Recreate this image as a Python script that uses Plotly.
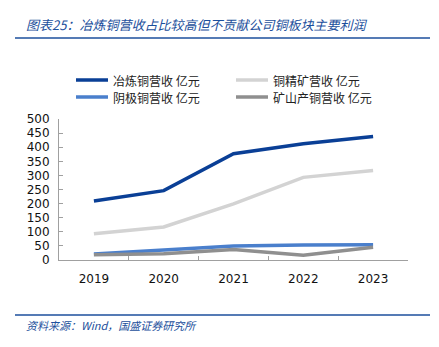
import plotly.graph_objects as go

years = ["2019", "2020", "2021", "2022", "2023"]
names = ["冶炼铜营收 亿元", "铜精矿营收 亿元", "阴极铜营收 亿元", "矿山产铜营收 亿元"]
smelting = [209, 246, 377, 412, 438]
concentrate = [93, 117, 199, 293, 317]
cathode = [21, 34, 50, 53, 54]
mine = [19, 22, 37, 17, 45]
series = [smelting, concentrate, cathode, mine]
colors = ["#0a3f96", "#d3d3d3", "#4a7fcc", "#8f8f8f"]

L, R, T, B = 59, 31, 119, 87
W, H = 439, 347
PW, PH = W - L - R, H - T - B


def px_x(p):
    return (p - L) / PW


def px_y(p):
    return (H - B - p) / PH


fig = go.Figure()
for n, v, c in zip(names, series, colors):
    fig.add_trace(go.Scatter(x=years, y=v, name=n, mode="lines",
                             line=dict(color=c, width=3.5), showlegend=False))

cjk = "Noto Sans CJK SC"
fig.update_layout(
    width=W, height=H,
    margin=dict(l=L, r=R, t=T, b=B),
    paper_bgcolor="white", plot_bgcolor="white",
    font=dict(family="DejaVu Sans", size=12, color="#111111"),
    xaxis=dict(range=[-0.5, 4.5], showgrid=False, showline=True, linecolor="#a0a0a0",
               linewidth=1, ticks="inside", ticklen=4, tickcolor="#a0a0a0",
               tickson="boundaries", ticklabelstandoff=8,
               tickfont=dict(size=12, family="DejaVu Sans")),
    yaxis=dict(range=[0, 500], dtick=50, showgrid=False, showline=True,
               linecolor="#a0a0a0", linewidth=1, ticks="inside", ticklen=4,
               tickcolor="#a0a0a0", zeroline=False, ticklabelstandoff=6,
               tickfont=dict(size=12, family="DejaVu Sans")),
)

# legend drawn as line samples + labels, 2 columns x 2 rows
leg_pos = [(76, 80), (236, 80), (76, 97), (236, 97)]
for (lx, ly), n, c in zip(leg_pos, names, colors):
    fig.add_shape(type="line", xref="paper", yref="paper",
                  x0=px_x(lx), x1=px_x(lx + 32), y0=px_y(ly), y1=px_y(ly),
                  line=dict(color=c, width=3.5))
    fig.add_annotation(text=n, xref="paper", yref="paper", x=px_x(lx + 35), y=px_y(ly),
                       showarrow=False, xanchor="left", yanchor="middle",
                       font=dict(family=cjk, size=12, color="#222222"))

fig.add_annotation(text="图表25：冶炼铜营收占比较高但不贡献公司铜板块主要利润",
                   xref="paper", yref="paper", x=px_x(24), y=px_y(25), showarrow=False,
                   xanchor="left", yanchor="middle",
                   font=dict(family=cjk, size=13, color="#1c4f9c", style="italic"))
fig.add_annotation(text="资料来源：Wind，国盛证券研究所", xref="paper", yref="paper",
                   x=px_x(24), y=px_y(325), showarrow=False, xanchor="left", yanchor="middle",
                   font=dict(family=cjk, size=11, color="#1c4f9c", style="italic"))
for yy in (38, 315):
    fig.add_shape(type="line", xref="paper", yref="paper",
                  x0=px_x(15), x1=px_x(430), y0=px_y(yy), y1=px_y(yy),
                  line=dict(color="#1c4f9c", width=1.5))

fig.write_html("out.html")
